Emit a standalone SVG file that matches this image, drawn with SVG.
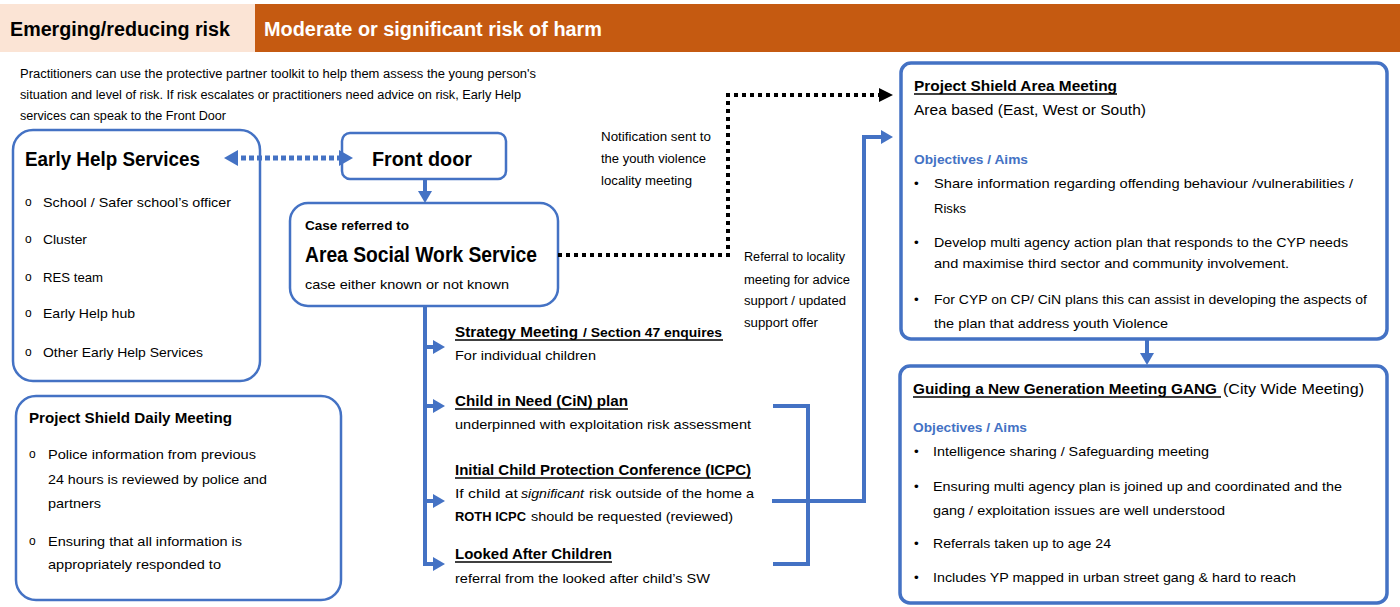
<svg xmlns="http://www.w3.org/2000/svg" width="1400" height="607" viewBox="0 0 1400 607">
<style>
text{font-family:"Liberation Sans",Arial,sans-serif;fill:#000}
.b{font-weight:bold}
.hd{font-size:20px;font-weight:bold}
.intro{font-size:12px}
.t20{font-size:20px;font-weight:bold}
.t22{font-size:22px;font-weight:bold}
.bd{font-size:13.5px}
.sm{font-size:12px}
.h15{font-size:15px;font-weight:bold}
.obj{font-size:13.5px;font-weight:bold;fill:#4472C4}
.box{fill:#fff;stroke:#4472C4;stroke-width:2.5}
.boxr{fill:#fff;stroke:#4472C4;stroke-width:3.5}
.bl{fill:none;stroke:#4472C4;stroke-width:4}
.ul{stroke:#000;stroke-width:1.3}
</style>
<defs>
<marker id="ab" markerUnits="userSpaceOnUse" markerWidth="12" markerHeight="14" refX="4" refY="7" orient="auto"><path d="M0,0 L12,7 L0,14 z" fill="#4472C4"/></marker>
<marker id="ad" markerUnits="userSpaceOnUse" markerWidth="14" markerHeight="16" refX="5" refY="8" orient="auto-start-reverse"><path d="M0,0 L14,8 L0,16 z" fill="#4472C4"/></marker>
<marker id="ak" markerUnits="userSpaceOnUse" markerWidth="14" markerHeight="14" refX="4" refY="7" orient="auto"><path d="M0,0 L14,7 L0,14 z" fill="#000"/></marker>
</defs>
<rect width="1400" height="607" fill="#fff"/>
<g id="header">
<rect x="0" y="4" width="255" height="48" fill="#FBE4D5"/>
<rect x="255" y="4" width="1145" height="48" fill="#C55A11"/>
<text class="hd" x="10" y="36" textLength="220" lengthAdjust="spacingAndGlyphs">Emerging/reducing risk</text>
<text class="hd" x="264" y="36" style="fill:#fff" textLength="338" lengthAdjust="spacingAndGlyphs">Moderate or significant risk of harm</text>
</g>
<g id="intro">
<text class="intro" x="20" y="78" textLength="516" lengthAdjust="spacingAndGlyphs">Practitioners can use the protective partner toolkit to help them assess the young person's</text>
<text class="intro" x="20" y="99" textLength="501" lengthAdjust="spacingAndGlyphs">situation and level of risk. If risk escalates or practitioners need advice on risk, Early Help</text>
<text class="intro" x="20" y="120" textLength="206" lengthAdjust="spacingAndGlyphs">services can speak to the Front Door</text>
</g>
<g id="early-help">
<rect x="13" y="130" width="247" height="251" rx="20" class="box"/>
<text class="t20" x="25" y="166" textLength="175" lengthAdjust="spacingAndGlyphs">Early Help Services</text>
<text class="sm" x="25" y="206">o</text><text class="bd" x="43" y="207" textLength="188" lengthAdjust="spacingAndGlyphs">School / Safer school’s officer</text>
<text class="sm" x="25" y="243">o</text><text class="bd" x="43" y="244" textLength="44" lengthAdjust="spacingAndGlyphs">Cluster</text>
<text class="sm" x="25" y="281">o</text><text class="bd" x="43" y="282" textLength="60" lengthAdjust="spacingAndGlyphs">RES team</text>
<text class="sm" x="25" y="317">o</text><text class="bd" x="43" y="318" textLength="92" lengthAdjust="spacingAndGlyphs">Early Help hub</text>
<text class="sm" x="25" y="356">o</text><text class="bd" x="43" y="357" textLength="160" lengthAdjust="spacingAndGlyphs">Other Early Help Services</text>
</g>
<g id="front-door">
<rect x="342" y="133" width="164" height="46" rx="8" class="box"/>
<text class="t20" x="372" y="166" textLength="100" lengthAdjust="spacingAndGlyphs">Front door</text>
</g>
<g id="area-social-work">
<rect x="290" y="203" width="268" height="103" rx="18" class="box"/>
<text class="b" x="305" y="230" style="font-size:13px" textLength="104" lengthAdjust="spacingAndGlyphs">Case referred to</text>
<text class="t22" x="305" y="262" textLength="232" lengthAdjust="spacingAndGlyphs">Area Social Work Service</text>
<text class="bd" x="305" y="289" textLength="204" lengthAdjust="spacingAndGlyphs">case either known or not known</text>
</g>
<g id="strategy-meeting">
<text class="h15" x="455" y="337" textLength="123" lengthAdjust="spacingAndGlyphs">Strategy Meeting</text>
<text class="b" x="583" y="337" style="font-size:13.5px" textLength="139" lengthAdjust="spacingAndGlyphs">/ Section 47 enquires</text>
<line x1="455" y1="340" x2="723" y2="340" class="ul"/>
<text class="bd" x="455" y="360" textLength="141" lengthAdjust="spacingAndGlyphs">For individual children</text>
</g>
<g id="child-in-need">
<text class="h15" x="455" y="406" textLength="173" lengthAdjust="spacingAndGlyphs">Child in Need (CiN) plan</text>
<line x1="455" y1="409" x2="628" y2="409" class="ul"/>
<text class="bd" x="455" y="429" textLength="296" lengthAdjust="spacingAndGlyphs">underpinned with exploitation risk assessment</text>
</g>
<g id="icpc">
<text class="h15" x="455" y="475" textLength="296" lengthAdjust="spacingAndGlyphs">Initial Child Protection Conference (ICPC)</text>
<line x1="455" y1="478" x2="751" y2="478" class="ul"/>
<text class="bd" x="455" y="498" textLength="63" lengthAdjust="spacingAndGlyphs">If child at</text>
<text class="bd" x="521" y="498" style="font-style:italic" textLength="63" lengthAdjust="spacingAndGlyphs">significant</text>
<text class="bd" x="589" y="498" textLength="165" lengthAdjust="spacingAndGlyphs">risk outside of the home a</text>
<text class="b" x="455" y="521" style="font-size:13.5px" textLength="71" lengthAdjust="spacingAndGlyphs">ROTH ICPC</text>
<text class="bd" x="531" y="521" textLength="202" lengthAdjust="spacingAndGlyphs">should be requested (reviewed)</text>
</g>
<g id="looked-after">
<text class="h15" x="455" y="559" textLength="157" lengthAdjust="spacingAndGlyphs">Looked After Children</text>
<line x1="455" y1="562" x2="612" y2="562" class="ul"/>
<text class="bd" x="455" y="583" textLength="255" lengthAdjust="spacingAndGlyphs">referral from the looked after child’s SW</text>
</g>
<g id="daily-meeting">
<rect x="16" y="396" width="325" height="204" rx="20" class="box"/>
<text class="h15" x="29" y="423" textLength="203" lengthAdjust="spacingAndGlyphs">Project Shield Daily Meeting</text>
<text class="sm" x="29" y="458">o</text>
<text class="bd" x="48" y="459" textLength="208" lengthAdjust="spacingAndGlyphs">Police information from previous</text>
<text class="bd" x="48" y="484" textLength="219" lengthAdjust="spacingAndGlyphs">24 hours is reviewed by police and</text>
<text class="bd" x="48" y="508" textLength="53" lengthAdjust="spacingAndGlyphs">partners</text>
<text class="sm" x="29" y="545">o</text>
<text class="bd" x="48" y="546" textLength="194" lengthAdjust="spacingAndGlyphs">Ensuring that all information is</text>
<text class="bd" x="48" y="569" textLength="173" lengthAdjust="spacingAndGlyphs">appropriately responded to</text>
</g>
<g id="area-meeting">
<rect x="901" y="63" width="486" height="276" rx="10" class="boxr"/>
<text class="h15" x="914" y="91" style="font-size:15.5px" textLength="203" lengthAdjust="spacingAndGlyphs">Project Shield Area Meeting</text>
<line x1="914" y1="94" x2="1117" y2="94" class="ul"/>
<text x="914" y="115" style="font-size:15px" textLength="232" lengthAdjust="spacingAndGlyphs">Area based (East, West or South)</text>
<text class="obj" x="914" y="164" textLength="114" lengthAdjust="spacingAndGlyphs">Objectives / Aims</text>
<text class="bd" x="914" y="188">•</text>
<text class="bd" x="934" y="188" textLength="419" lengthAdjust="spacingAndGlyphs">Share information regarding offending behaviour /vulnerabilities /</text>
<text class="bd" x="934" y="213" textLength="32" lengthAdjust="spacingAndGlyphs">Risks</text>
<text class="bd" x="914" y="247">•</text>
<text class="bd" x="934" y="247" textLength="414" lengthAdjust="spacingAndGlyphs">Develop multi agency action plan that responds to the CYP needs</text>
<text class="bd" x="934" y="268" textLength="355" lengthAdjust="spacingAndGlyphs">and maximise third sector and community involvement.</text>
<text class="bd" x="914" y="304">•</text>
<text class="bd" x="934" y="304" textLength="433" lengthAdjust="spacingAndGlyphs">For CYP on CP/ CiN plans this can assist in developing the aspects of</text>
<text class="bd" x="934" y="328" textLength="234" lengthAdjust="spacingAndGlyphs">the plan that address youth Violence</text>
</g>
<g id="gang-meeting">
<rect x="900" y="366" width="487" height="237" rx="10" class="boxr"/>
<text class="h15" x="913" y="394" style="font-size:15.5px" textLength="304" lengthAdjust="spacingAndGlyphs">Guiding a New Generation Meeting GANG</text>
<line x1="913" y1="397" x2="1221" y2="397" class="ul"/>
<text x="1223" y="394" style="font-size:15px" textLength="141" lengthAdjust="spacingAndGlyphs">(City Wide Meeting)</text>
<text class="obj" x="913" y="432" textLength="114" lengthAdjust="spacingAndGlyphs">Objectives / Aims</text>
<text class="bd" x="914" y="456">•</text>
<text class="bd" x="933" y="456" textLength="276" lengthAdjust="spacingAndGlyphs">Intelligence sharing / Safeguarding meeting</text>
<text class="bd" x="914" y="491">•</text>
<text class="bd" x="933" y="491" textLength="409" lengthAdjust="spacingAndGlyphs">Ensuring multi agency plan is joined up and coordinated and the</text>
<text class="bd" x="933" y="515" textLength="292" lengthAdjust="spacingAndGlyphs">gang / exploitation issues are well understood</text>
<text class="bd" x="914" y="548">•</text>
<text class="bd" x="933" y="548" textLength="178" lengthAdjust="spacingAndGlyphs">Referrals taken up to age 24</text>
<text class="bd" x="914" y="582">•</text>
<text class="bd" x="933" y="582" textLength="363" lengthAdjust="spacingAndGlyphs">Includes YP mapped in urban street gang &amp; hard to reach</text>
</g>
<g id="connectors">
<line x1="233" y1="158" x2="344" y2="158" stroke="#4472C4" stroke-width="5" stroke-dasharray="5 3" marker-start="url(#ad)" marker-end="url(#ad)"/>
<line x1="425" y1="179" x2="425" y2="195" class="bl" marker-end="url(#ab)"/>
<line x1="425" y1="306" x2="425" y2="566" class="bl"/>
<line x1="423" y1="347" x2="437" y2="347" class="bl" marker-end="url(#ab)"/>
<line x1="423" y1="406" x2="437" y2="406" class="bl" marker-end="url(#ab)"/>
<line x1="423" y1="501" x2="437" y2="501" class="bl" marker-end="url(#ab)"/>
<line x1="423" y1="564" x2="437" y2="564" class="bl" marker-end="url(#ab)"/>
<path d="M773,406 H808 V564 H773" class="bl"/>
<path d="M772,501 H864 V137 H885" class="bl" marker-end="url(#ab)"/>
<path d="M558,255 H728 V95 H883" fill="none" stroke="#000" stroke-width="4" stroke-dasharray="4 4" marker-end="url(#ak)"/>
<line x1="1147" y1="340" x2="1147" y2="357" class="bl" marker-end="url(#ab)"/>
<text class="sm" x="601" y="141" textLength="110" lengthAdjust="spacingAndGlyphs">Notification sent to</text>
<text class="sm" x="601" y="163" textLength="105" lengthAdjust="spacingAndGlyphs">the youth violence</text>
<text class="sm" x="601" y="185" textLength="91" lengthAdjust="spacingAndGlyphs">locality meeting</text>
<text class="sm" x="744" y="261" textLength="101" lengthAdjust="spacingAndGlyphs">Referral to locality</text>
<text class="sm" x="744" y="284" textLength="106" lengthAdjust="spacingAndGlyphs">meeting for advice</text>
<text class="sm" x="744" y="305" textLength="102" lengthAdjust="spacingAndGlyphs">support / updated</text>
<text class="sm" x="744" y="327" textLength="74" lengthAdjust="spacingAndGlyphs">support offer</text>
</g>
</svg>
